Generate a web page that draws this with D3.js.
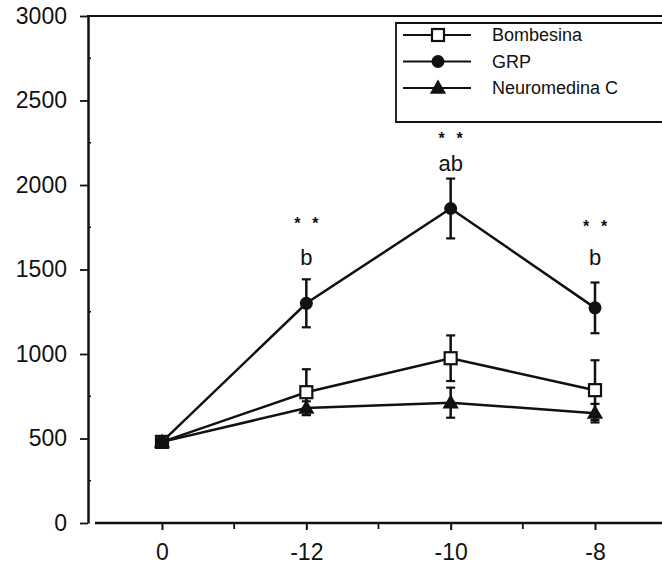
<!DOCTYPE html>
<html>
<head>
<meta charset="utf-8">
<script src="https://cdn.jsdelivr.net/npm/d3@7"></script>
<style>
  body { margin: 0; background: #fff; }
  text { font-family: "Liberation Sans", Arial, sans-serif; fill: #111; }
</style>
</head>
<body>
<script>
// values
const categories = ["0", "-12", "-10", "-8"];
const bombesina = [480, 774, 975, 786];
const bombesinaErr = [0, 136, 135, 177];
const grp = [480, 1300, 1861, 1273];
const grpErr = [0, 142, 177, 150];
const neuromedina = [480, 680, 712, 650];
const neuromedinaErr = [0, 40, 89, 55];
const yTicks = [0, 500, 1000, 1500, 2000, 2500, 3000];
const yMinor = [250, 750, 1250, 1750, 2250, 2750];
const annotCats = ["-12", "-10", "-8"];
const annotLetters = ["b", "ab", "b"];
const letterY = [1525, 2085, 1525];
const starY = [1790, 2295, 1775];

const w = 662, h = 567;
const svg = d3.select("body").append("svg")
    .attr("width", w).attr("height", h);

const xScale = d3.scalePoint().domain(categories).range([162, 595]);
const yScale = d3.scaleLinear().domain([0, 3000]).range([523, 16]);
const ink = "#111";

// frame top line
svg.append("line")
    .attr("x1", 87).attr("x2", w)
    .attr("y1", yScale(3000)).attr("y2", yScale(3000))
    .attr("stroke", ink).attr("stroke-width", 2.2);

// y axis
const yAxis = d3.axisLeft(yScale).tickValues(yTicks).tickFormat(d3.format("d"))
    .tickSize(8).tickPadding(13).tickSizeOuter(0);
const yAxisG = svg.append("g").attr("transform", "translate(88,0)").call(yAxis);
yAxisG.select(".domain").attr("stroke", ink).attr("stroke-width", 2.5);
yAxisG.selectAll(".tick line").attr("stroke", ink).attr("stroke-width", 1.8);
yAxisG.selectAll(".tick text").style("font-size", "23px").attr("fill", ink);
yAxisG.selectAll(".minor").data(yMinor).enter().append("line")
    .attr("x1", 0).attr("x2", 3)
    .attr("y1", d => yScale(d)).attr("y2", d => yScale(d))
    .attr("stroke", ink).attr("stroke-width", 1.5);

// x axis
const xAxis = d3.axisBottom(xScale).tickSize(7).tickPadding(14).tickSizeOuter(0);
const xAxisG = svg.append("g").attr("transform", `translate(0,${yScale(0)})`).call(xAxis);
xAxisG.select(".domain").remove();
xAxisG.append("line").attr("x1", 95).attr("x2", w).attr("y1", 0).attr("y2", 0)
    .attr("stroke", ink).attr("stroke-width", 2.5);
xAxisG.selectAll(".tick line").attr("stroke", ink).attr("stroke-width", 2);
xAxisG.selectAll(".tick text").style("font-size", "23px").attr("fill", ink);
const mids = categories.slice(1).map((c, i) => (xScale(categories[i]) + xScale(c)) / 2);
xAxisG.selectAll(".minor").data(mids).enter().append("line")
    .attr("x1", d => d).attr("x2", d => d).attr("y1", 0).attr("y2", 6)
    .attr("stroke", ink).attr("stroke-width", 1.8);

const series = [
    { name: "Bombesina", values: bombesina, err: bombesinaErr, shape: "square" },
    { name: "GRP", values: grp, err: grpErr, shape: "circle" },
    { name: "Neuromedina C", values: neuromedina, err: neuromedinaErr, shape: "triangle" }
];

const line = d3.line().x(d => xScale(d.cat)).y(d => yScale(d.v));

function drawMarker(g, shape, x, y) {
    if (shape === "square") {
        g.append("rect").attr("x", x - 6).attr("y", y - 6).attr("width", 12).attr("height", 12)
            .attr("fill", "#fff").attr("stroke", ink).attr("stroke-width", 2.2);
    } else if (shape === "circle") {
        g.append("circle").attr("cx", x).attr("cy", y).attr("r", 6.5).attr("fill", ink);
    } else {
        g.append("path")
            .attr("d", d3.symbol().type(d3.symbolTriangle).size(115)())
            .attr("transform", `translate(${x},${y + 1})`)
            .attr("fill", ink);
    }
}

const plot = svg.append("g");
series.forEach(s => {
    const pts = categories.map((c, i) => ({ cat: c, v: s.values[i], e: s.err[i] }));
    plot.append("path").datum(pts).attr("d", line)
        .attr("fill", "none").attr("stroke", ink).attr("stroke-width", 2.5);
});
series.forEach(s => {
    const pts = categories.map((c, i) => ({ cat: c, v: s.values[i], e: s.err[i] })).filter(d => d.e > 0);
    const eb = plot.append("g");
    pts.forEach(d => {
        const x = xScale(d.cat);
        eb.append("line").attr("x1", x).attr("x2", x)
            .attr("y1", yScale(d.v - d.e)).attr("y2", yScale(d.v + d.e))
            .attr("stroke", ink).attr("stroke-width", 2.5);
        [d.v - d.e, d.v + d.e].forEach(v => {
            eb.append("line").attr("x1", x - 4.5).attr("x2", x + 4.5)
                .attr("y1", yScale(v)).attr("y2", yScale(v))
                .attr("stroke", ink).attr("stroke-width", 2.2);
        });
    });
});
series.forEach(s => {
    const mg = plot.append("g");
    categories.forEach((c, i) => drawMarker(mg, s.shape, xScale(c), yScale(s.values[i])));
});

// significance annotations
annotCats.forEach((c, i) => {
    svg.append("text").attr("x", xScale(c)).attr("y", yScale(letterY[i]))
        .attr("text-anchor", "middle").style("font-size", "22px").text(annotLetters[i]);
    [-9, 9].forEach(off => {
        svg.append("text").attr("x", xScale(c) + off).attr("y", yScale(starY[i]) + 9)
            .attr("text-anchor", "middle").style("font-size", "16px").style("font-weight", "bold").text("*");
    });
});

// legend
const legend = svg.append("g");
legend.append("path")
    .attr("d", `M${w},23 H396 V122 H${w}`)
    .attr("fill", "#fff").attr("stroke", ink).attr("stroke-width", 1.8);
series.forEach((s, i) => {
    const y = 35 + i * 26.5;
    legend.append("line").attr("x1", 403).attr("x2", 471).attr("y1", y).attr("y2", y)
        .attr("stroke", ink).attr("stroke-width", 2.2);
    drawMarker(legend, s.shape, 438, y);
    legend.append("text").attr("x", 492).attr("y", y).attr("dy", "0.36em")
        .style("font-size", "18px").text(s.name);
});
</script>
</body>
</html>
